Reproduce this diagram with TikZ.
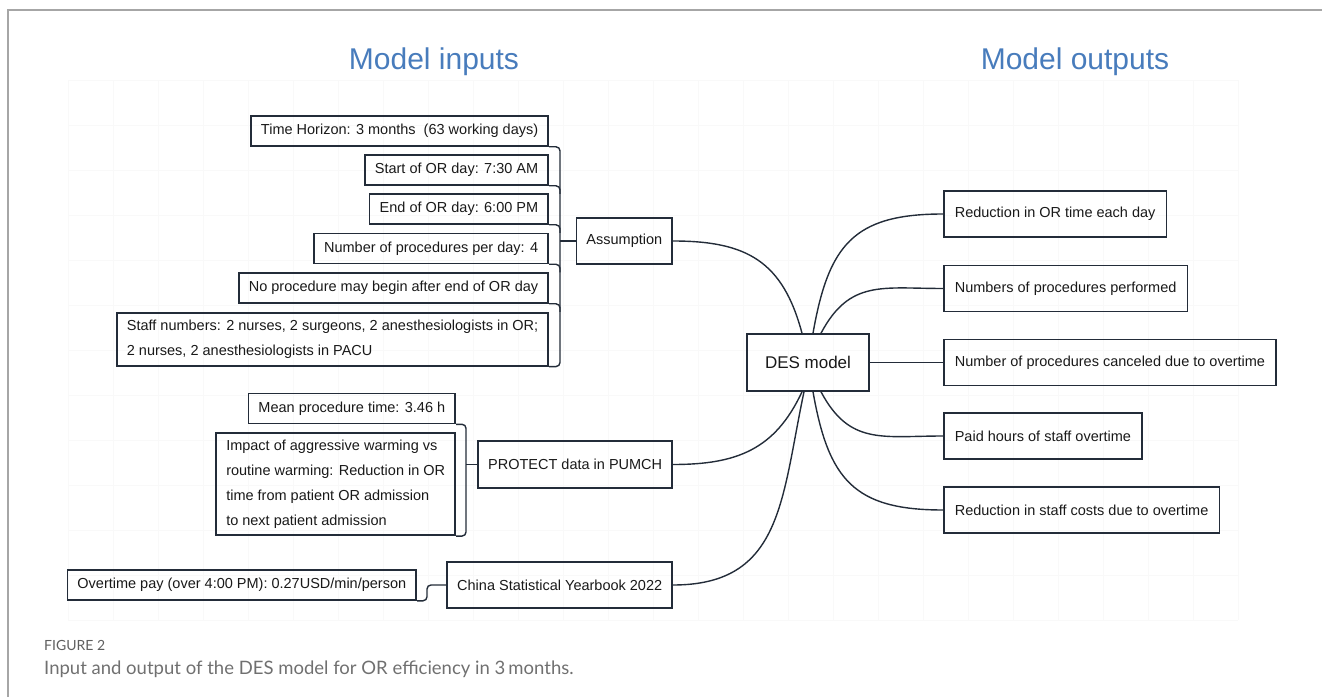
\documentclass[tikz,border=0pt]{standalone}
\usepackage{fontspec}
\setmainfont{Liberation Sans}
\newfontfamily\capfont{Lato}
\usepackage{tikz}
\usetikzlibrary{calc}
\usepackage{xcolor}
\definecolor{inkline}{HTML}{232C39}
\definecolor{headblue}{RGB}{72,124,188}
\definecolor{capgray}{RGB}{112,112,112}

\begin{document}
\begin{tikzpicture}[x=1pt,y=1pt,
  box/.style={draw=inkline, line width=1.6pt, inner xsep=10pt, inner ysep=7pt,
    minimum height=30pt, text=black!90, font=\fontsize{14.5}{25}\selectfont},
  hub/.style={box, minimum height=46pt},
  outbox/.style={box, minimum height=46pt, anchor=west, inner xsep=11pt},
  link/.style={draw=inkline, line width=1.4pt},
  brace/.style={link, rounded corners=4pt}]
\useasboundingbox (0,0) rectangle (1322,697);

% faint grid and frame
\foreach \x in {68,113,...,1268} \draw[black!2.5, line width=0.5pt] (\x,77) -- (\x,617);
\foreach \y in {77,122,...,617} \draw[black!2.5, line width=0.5pt] (68,\y) -- (1238,\y);
\draw[black!35, line width=1.2pt] (8,0) -- (8,687) -- (1322,687);

% headings
\node[text=headblue, font=\fontsize{30}{36}\selectfont] (intitle) at (434,635) {Model inputs};
\node[text=headblue, font=\fontsize{30}{36}\selectfont] (outtitle) at (1075,635) {Model outputs};

% assumptions
\node[box, anchor=east] (horizon) at (549,566) {Time Horizon: 3 months~ (63 working days)};
\node[box, anchor=east] (daystart) at (549,527) {Start of OR day: 7:30 AM};
\node[box, anchor=east] (dayend) at (549,488) {End of OR day: 6:00 PM};
\node[box, anchor=east] (perday) at (549,448.5) {Number of procedures per day: 4};
\node[box, anchor=east] (nolate) at (549,409) {No procedure may begin after end of OR day};
\node[box, anchor=east, align=left] (staff) at (549,357.5) {Staff numbers: 2 nurses, 2 surgeons, 2 anesthesiologists in OR;\\2 nurses, 2 anesthesiologists in PACU};
\node[hub, anchor=east] (assume) at (673,456) {Assumption};

\coordinate (asmbar) at (560,0);
\draw[brace] (horizon.south east) -- (horizon.south east -| asmbar) -- (staff.south east -| asmbar) -- (staff.south east);
\foreach \n in {daystart,dayend,perday,nolate}
  \draw[brace] (\n.south east) -- (\n.south east -| asmbar) -- ++(0,-8);
\draw[link] (assume.west) -- (assume.west -| asmbar);

% trial data
\node[box, anchor=east] (meantime) at (456,288.5) {Mean procedure time: 3.46 h};
\node[box, anchor=east, align=left] (impact) at (456,213) {Impact of aggressive warming vs\\routine warming: Reduction in OR\\time from patient OR admission\\to next patient admission};
\node[hub, anchor=east, minimum height=47pt] (protect) at (673,232.5) {PROTECT data in PUMCH};

\coordinate (databar) at (466,0);
\draw[brace] (meantime.south east) -- (meantime.south east -| databar) -- (impact.south east -| databar) -- (impact.south east);
\draw[link] (protect.west) -- (protect.west -| databar);

% yearbook
\node[box, anchor=east] (overtime) at (417,112) {Overtime pay (over 4:00 PM): 0.27USD/min/person};
\node[hub, anchor=east] (yearbook) at (673,112) {China Statistical Yearbook 2022};

\coordinate (paybar) at (427,0);
\draw[brace] (overtime.south east) -- (overtime.south east -| paybar) -- (yearbook.west -| paybar) -- (yearbook.west);

% model and outputs
\node[box, minimum width=122pt, minimum height=57pt, font=\fontsize{17}{20}\selectfont] (des) at (808,334.5) {DES model};

\node[outbox] (out1) at (943,483) {Reduction in OR time each day};
\node[outbox] (out2) at (943,408.5) {Numbers of procedures performed};
\node[outbox] (out3) at (943,334.5) {Number of procedures canceled due to overtime};
\node[outbox] (out4) at (943,261) {Paid hours of staff overtime};
\node[outbox] (out5) at (943,187) {Reduction in staff costs due to overtime};

\draw[link] (assume.east) to[out=0,in=105,looseness=1.2] ([xshift=-6pt]des.north);
\draw[link] (protect.east) to[out=0,in=-115,looseness=1.1] ([xshift=-6pt]des.south);
\draw[link] (yearbook.east) to[out=0,in=-102,looseness=1.2] ([xshift=-4pt]des.south);
\draw[link] ([xshift=5pt]des.north) to[out=80,in=180,looseness=1.3] (out1.west);
\draw[link] ([xshift=13pt]des.north) to[out=62,in=180,looseness=1.2] (out2.west);
\draw[link] (des.east) -- (out3.west);
\draw[link] ([xshift=13pt]des.south) to[out=-62,in=180,looseness=1.2] (out4.west);
\draw[link] ([xshift=5pt]des.south) to[out=-80,in=180,looseness=1.3] (out5.west);

% caption
\node[anchor=west, inner sep=0pt, text=capgray!85!black, font=\capfont\fontsize{14}{16}\selectfont] (fignum) at (44,52) {FIGURE 2};
\node[anchor=west, inner sep=0pt, text=capgray, font=\capfont\fontsize{18.5}{22}\selectfont] (figcap) at (44,28) {Input and output of the DES model for OR efficiency in 3\,months.};
\end{tikzpicture}
\end{document}
